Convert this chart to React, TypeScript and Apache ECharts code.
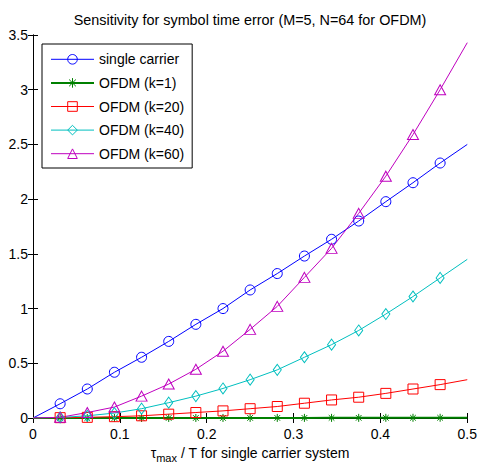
import React, { useEffect, useRef } from "react";
import * as echarts from "echarts";

const xValues = [0, 0.03125, 0.0625, 0.09375, 0.125, 0.15625, 0.1875, 0.21875, 0.25, 0.28125, 0.3125, 0.34375, 0.375, 0.40625, 0.4375, 0.46875, 0.5];
const singleCarrier = [0, 0.13, 0.265, 0.418, 0.555, 0.7, 0.856, 1.0, 1.17, 1.32, 1.48, 1.633, 1.8, 1.977, 2.15, 2.33, 2.5];
const ofdmK1 = [0, 0, 0.0001, 0.0001, 0.0002, 0.0003, 0.0004, 0.0005, 0.0007, 0.0008, 0.001, 0.0012, 0.0014, 0.0016, 0.0019, 0.0022, 0.0025];
const ofdmK20 = [0, 0.003, 0.006, 0.012, 0.02, 0.035, 0.05, 0.065, 0.085, 0.105, 0.135, 0.165, 0.19, 0.225, 0.265, 0.305, 0.35];
const ofdmK40 = [0, 0.005, 0.02, 0.045, 0.085, 0.14, 0.2, 0.27, 0.35, 0.44, 0.555, 0.67, 0.8, 0.95, 1.11, 1.28, 1.45];
const ofdmK60 = [0, 0.006, 0.05, 0.1, 0.2, 0.31, 0.445, 0.61, 0.81, 1.02, 1.285, 1.55, 1.87, 2.21, 2.59, 3.0, 3.43];

const seriesNames = ["single carrier", "OFDM (k=1)", "OFDM (k=20)", "OFDM (k=40)", "OFDM (k=60)"];
const seriesColors = ["#0000ff", "#008000", "#ff0000", "#00bfbf", "#bf00bf"];

const titleText = "Sensitivity for symbol time error (M=5, N=64 for OFDM)";
const FONT = "Liberation Sans, Arial, Helvetica, sans-serif";

const asterisk = "path://M5,0 L5,10 M0,5 L10,5 M1.5,1.5 L8.5,8.5 M1.5,8.5 L8.5,1.5";

export default function App() {
  const ref = useRef<HTMLDivElement>(null);
  useEffect(() => {
    if (!ref.current) return;
    const chart = echarts.init(ref.current, null, { renderer: "svg" });
    const allData = [singleCarrier, ofdmK1, ofdmK20, ofdmK40, ofdmK60];
    const symbols = ["circle", asterisk, "rect", "diamond", "triangle"];
    const sizes: any[] = [10, 8, 10, [8, 11], [11, 10]];
    const widths = [1, 2, 1, 1, 1];
    const series = allData.map((vals, si) => ({
      name: seriesNames[si],
      type: "line",
      showAllSymbol: true,
      symbol: symbols[si],
      symbolSize: sizes[si],
      lineStyle: { color: seriesColors[si], width: widths[si] },
      itemStyle: { color: "none", borderColor: seriesColors[si], borderWidth: 1 },
      z: si === 1 ? 1 : 2,
      data: vals.map((v, i) => {
        const item: any = { value: [xValues[i], v] };
        if (i === 0 || i === vals.length - 1) item.symbol = "none";
        return item;
      }),
    }));
    chart.setOption({
      animation: false,
      backgroundColor: "#fff",
      textStyle: { fontFamily: FONT },
      title: {
        text: titleText,
        left: 245,
        textAlign: "center",
        top: 8,
        textStyle: { fontSize: 14.4, fontWeight: "normal", color: "#000", fontFamily: FONT },
      },
      grid: { left: 33, top: 35, right: 9, bottom: 50, containLabel: false },
      legend: {
        orient: "vertical",
        left: 42,
        top: 44,
        padding: [8, 8, 7, 8],
        itemGap: 9,
        itemWidth: 43,
        itemHeight: 12,
        backgroundColor: "#fff",
        borderColor: "#000",
        borderWidth: 1,
        itemStyle: { borderWidth: 1 },
        lineStyle: { width: "inherit" },
        textStyle: { fontSize: 14, lineHeight: 14, color: "#000", fontFamily: FONT },
        data: seriesNames,
      },
      xAxis: [
        {
          type: "value",
          min: 0,
          max: 0.5,
          interval: 0.1,
          splitLine: { show: false },
          axisLine: { show: true, lineStyle: { color: "#000", width: 1 } },
          axisTick: { show: true, inside: true, length: 5, lineStyle: { color: "#000" } },
          axisLabel: { fontSize: 14, color: "#000", margin: 9, fontFamily: FONT },
          name: "{a|τ}{s|max}{a| / T for single carrier system}",
          nameLocation: "middle",
          nameGap: 25,
          nameTextStyle: {
            rich: {
              a: { fontSize: 14, color: "#000", fontFamily: FONT },
              s: { fontSize: 11, color: "#000", fontFamily: FONT, padding: [9, 0, 0, 0] },
            },
          },
        },
        {
          type: "value",
          position: "top",
          min: 0,
          max: 0.5,
          interval: 0.1,
          splitLine: { show: false },
          axisLine: { show: true, lineStyle: { color: "#000", width: 1 } },
          axisTick: { show: true, inside: true, length: 5, lineStyle: { color: "#000" } },
          axisLabel: { show: false },
        },
      ],
      yAxis: [
        {
          type: "value",
          min: 0,
          max: 3.5,
          interval: 0.5,
          splitLine: { show: false },
          axisLine: { show: true, lineStyle: { color: "#000", width: 1 } },
          axisTick: { show: true, inside: true, length: 5, lineStyle: { color: "#000" } },
          axisLabel: { fontSize: 14, color: "#000", margin: 5, fontFamily: FONT },
        },
        {
          type: "value",
          position: "right",
          min: 0,
          max: 3.5,
          interval: 0.5,
          splitLine: { show: false },
          axisLine: { show: true, lineStyle: { color: "#000", width: 1 } },
          axisTick: { show: true, inside: true, length: 5, lineStyle: { color: "#000" } },
          axisLabel: { show: false },
        },
      ],
      series,
    });
    return () => chart.dispose();
  }, []);
  return <div ref={ref} style={{ position: "fixed", left: 0, top: 0, width: 480, height: 468 }} />;
}
